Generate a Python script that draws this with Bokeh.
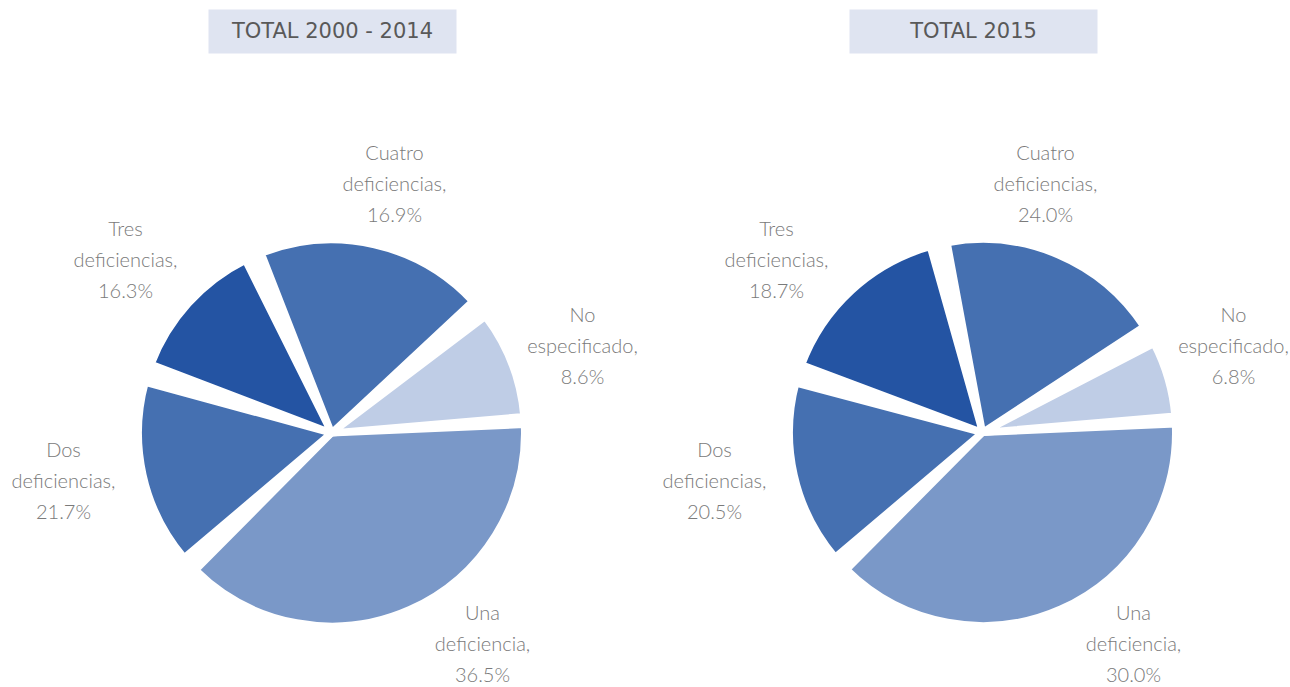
import math
from bokeh.plotting import figure
from bokeh.models import Range1d, ColumnDataSource
from bokeh.core.properties import value
from bokeh.embed import file_html
from bokeh.resources import INLINE

# ---------------- data ----------------
categories = ["Una deficiencia", "Dos deficiencias", "Tres deficiencias",
              "Cuatro deficiencias", "No especificado"]
label_first = ["Una", "Dos", "Tres", "Cuatro", "No"]
label_second = ["deficiencia,", "deficiencias,", "deficiencias,",
                "deficiencias,", "especificado,"]
titles = ["TOTAL 2000 - 2014", "TOTAL 2015"]

# percentages printed in the labels
label_pct_2000_2014 = [36.5, 21.7, 16.3, 16.9, 8.6]
label_pct_2015 = [30.0, 20.5, 18.7, 24.0, 6.8]
# shares of the circle as the slices are actually drawn in the picture
drawn_share_2000_2014 = [38.4, 17.9, 12.5, 21.2, 10.0]
drawn_share_2015 = [38.4, 17.8, 15.6, 20.9, 7.3]

colors = ["#7A98C8", "#4570B1", "#2454A3", "#4570B1", "#BFCDE6"]

# ---------------- layout / style ----------------
W, H = 1290, 687


def dx(sx):
    return sx


def dy(sy):
    return H - sy


LABEL_FONT = value("Lato Light")
TITLE_FONT = value("DejaVu Sans")
LABEL_COLOR = "#7A7A7A"
TITLE_COLOR = "#595959"
BOX_COLOR = "#DFE4F1"

p = figure(width=W, height=H, output_backend="svg", toolbar_location=None,
           x_range=Range1d(0, W), y_range=Range1d(0, H),
           min_border=0, outline_line_color=None)
p.axis.visible = False
p.grid.visible = False
p.background_fill_color = "white"
p.border_fill_color = "white"

STROKE = 7            # white separation drawn round every slice
RADIUS = 189.5        # visible radius
START_DEG = 3.0       # where the first slice starts (clockwise)
PAD_DEG = [0.5, 4.5, 1.2, 4.0, 1.9]   # angular gap on each side of a slice
LINE_STEP = 31

panels = [
    dict(title=titles[0], share=drawn_share_2000_2014, pct=label_pct_2000_2014,
         center=(331, 432.5), box_cx=332,
         anchors=[(482, 611), (63, 448), (125, 227), (394, 151), (582, 313)]),
    dict(title=titles[1], share=drawn_share_2015, pct=label_pct_2015,
         center=(982, 432), box_cx=973,
         anchors=[(1133, 611), (714, 448), (776, 227), (1045, 151), (1233, 313)]),
]

for pan in panels:
    cx, cy = dx(pan["center"][0]), dy(pan["center"][1])
    total = sum(pan["share"])
    a = math.radians(START_DEG)
    starts, ends = [], []
    for i, s in enumerate(pan["share"]):
        span = 2 * math.pi * s / total
        pad = math.radians(PAD_DEG[i])
        starts.append(a - pad)
        ends.append(a - span + pad)
        a -= span
    n = len(categories)
    src = ColumnDataSource(dict(x=[cx] * n, y=[cy] * n, start=starts, end=ends,
                                color=colors, cat=categories))
    p.wedge(x="x", y="y", radius=RADIUS + STROKE / 2, start_angle="start",
            end_angle="end", direction="clock", fill_color="color",
            line_color="white", line_width=STROKE, source=src)

    # title box
    bx = dx(pan["box_cx"])
    p.quad(left=[bx - 124], right=[bx + 124], top=[dy(9)], bottom=[dy(53)],
           fill_color=BOX_COLOR, line_color=None)
    p.text(x=[bx], y=[dy(30)], text=[pan["title"]], text_font=TITLE_FONT,
           text_font_size="21px", text_color=TITLE_COLOR, text_align="center",
           text_baseline="middle")

    # labels
    lx, ly, lt = [], [], []
    for i in range(n):
        ax, ay = pan["anchors"][i]
        lines = [label_first[i], label_second[i], f"{pan['pct'][i]:.1f}%"]
        for k, t in enumerate(lines):
            lx.append(dx(ax))
            ly.append(dy(ay + LINE_STEP * k))
            lt.append(t)
    p.text(x=lx, y=ly, text=lt, text_font=LABEL_FONT, text_font_size="20px",
           text_color=LABEL_COLOR, text_align="center",
           text_baseline="middle")

open("out.html", "w").write(file_html(p, INLINE))
